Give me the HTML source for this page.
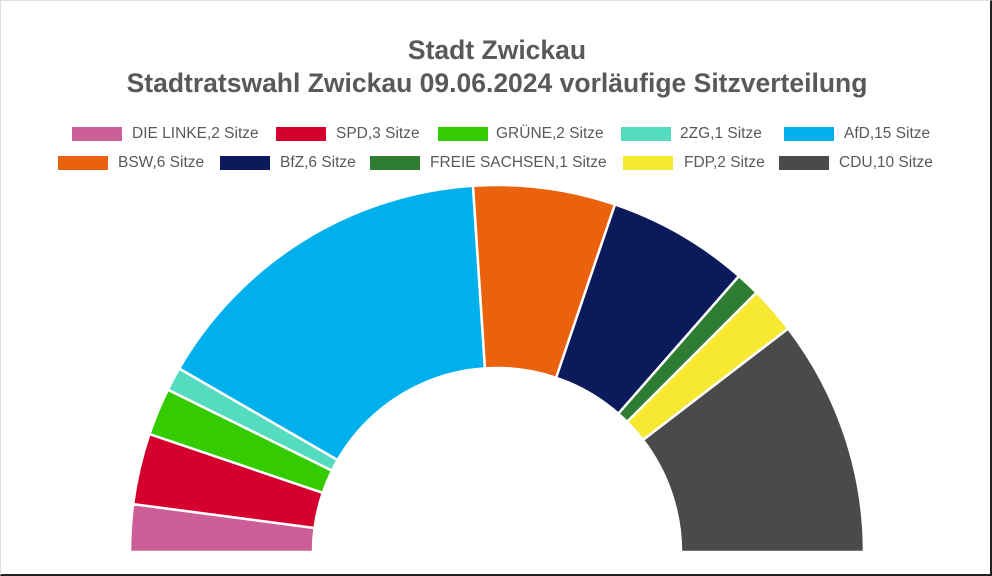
<!DOCTYPE html>
<html><head><meta charset="utf-8"><style>
body{margin:0;background:#fff;}
#c{position:relative;width:992px;height:576px;overflow:hidden;font-family:"Liberation Sans",sans-serif;color:#595959;box-sizing:border-box;border:1px solid #ddd;border-right:2px solid #222;border-bottom:2px solid #222;}
.t{position:absolute;left:0;width:992px;text-align:center;font-weight:bold;font-size:26.5px;}
.sw{position:absolute;width:50px;height:14px;}
.lt{position:absolute;font-size:15.5px;line-height:18px;white-space:nowrap;}
</style></head><body><div id="c">
<div class="t" style="top:34px">Stadt Zwickau</div>
<div class="t" style="top:67px">Stadtratswahl Zwickau 09.06.2024 vorläufige Sitzverteilung</div>
<div class="sw" style="left:71px;top:126px;background:#cc5f98"></div><div class="lt" style="left:131px;top:124px">DIE LINKE,2 Sitze</div>
<div class="sw" style="left:275px;top:126px;background:#d5002d"></div><div class="lt" style="left:335px;top:124px">SPD,3 Sitze</div>
<div class="sw" style="left:437px;top:126px;background:#34cc00"></div><div class="lt" style="left:495px;top:124px">GRÜNE,2 Sitze</div>
<div class="sw" style="left:620px;top:126px;background:#55dbbf"></div><div class="lt" style="left:679px;top:124px">2ZG,1 Sitze</div>
<div class="sw" style="left:783px;top:126px;background:#00b0ec"></div><div class="lt" style="left:843px;top:124px">AfD,15 Sitze</div>
<div class="sw" style="left:57px;top:155px;background:#ea620d"></div><div class="lt" style="left:117px;top:153px">BSW,6 Sitze</div>
<div class="sw" style="left:219px;top:155px;background:#0b1a5a"></div><div class="lt" style="left:279px;top:153px">BfZ,6 Sitze</div>
<div class="sw" style="left:369px;top:155px;background:#2e7d32"></div><div class="lt" style="left:429px;top:153px">FREIE SACHSEN,1 Sitze</div>
<div class="sw" style="left:622px;top:155px;background:#f7e832"></div><div class="lt" style="left:683px;top:153px">FDP,2 Sitze</div>
<div class="sw" style="left:778px;top:155px;background:#4a4a4a"></div><div class="lt" style="left:838px;top:153px">CDU,10 Sitze</div>
<svg id="s" width="992" height="576" style="position:absolute;left:0;top:0"></svg>
</div>
<script>
var d=[[2,"#cc5f98"],[3,"#d5002d"],[2,"#34cc00"],[1,"#55dbbf"],[15,"#00b0ec"],[6,"#ea620d"],[6,"#0b1a5a"],[1,"#2e7d32"],[2,"#f7e832"],[10,"#4a4a4a"]];
var cx=496,cy=551,ro=367,ri=184,acc=0,h="";
function p(r,a){return (cx-r*Math.cos(a)).toFixed(2)+","+(cy-r*Math.sin(a)).toFixed(2);}
d.forEach(function(e){var a0=acc/48*Math.PI;acc+=e[0];var a1=acc/48*Math.PI;
h+='<path d="M'+p(ri,a0)+' L'+p(ro,a0)+' A'+ro+','+ro+' 0 0 1 '+p(ro,a1)+' L'+p(ri,a1)+' A'+ri+','+ri+' 0 0 0 '+p(ri,a0)+'Z" fill="'+e[1]+'" stroke="#fff" stroke-width="2.5"/>';});
document.getElementById("s").innerHTML=h;
</script>
</body></html>
